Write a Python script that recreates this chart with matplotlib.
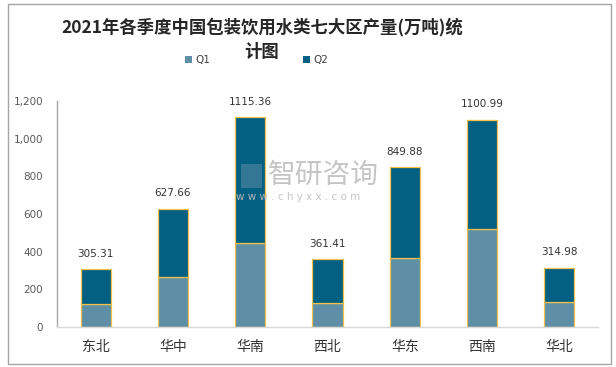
import matplotlib
matplotlib.use("Agg")
import matplotlib.pyplot as plt
from matplotlib.patches import Rectangle
import numpy as np

plt.rcParams['font.family'] = ['Noto Sans CJK SC', 'DejaVu Sans']

categories = ["东北", "华中", "华南", "西北", "华东", "西南", "华北"]
totals = [305.31, 627.66, 1115.36, 361.41, 849.88, 1100.99, 314.98]
q1 = [122, 264, 444, 129, 365, 519, 133]
q2 = [t - a for t, a in zip(totals, q1)]
yticks = [0, 200, 400, 600, 800, 1000, 1200]
title_l1 = "2021年各季度中国包装饮用水类七大区产量(万吨)统"
title_l2 = "计图"

c_q1 = "#5E8FA7"
c_q2 = "#036083"
edge = "#F5C04A"

fig = plt.figure(figsize=(6.16, 3.67), dpi=100)
ax = fig.add_axes([57/616, 1 - 327/367, (598-57)/616, 226/367])

x = np.arange(len(categories))
w = 0.39
ax.bar(x, q1, width=w, color=c_q1, edgecolor=edge, linewidth=0.9, label="Q1", zorder=2)
ax.bar(x, q2, width=w, bottom=q1, color=c_q2, edgecolor=edge, linewidth=0.9, label="Q2", zorder=2)

for xi, t in zip(x, totals):
    ax.text(xi, t + 55, f"{t:.2f}", ha="center", va="bottom", fontsize=7.5, color="#333333",
            family=['DejaVu Sans'])

ax.set_xlim(-0.5, len(categories) - 0.5)
ax.set_ylim(0, 1200)
ax.set_yticks(yticks)
ax.set_yticklabels([f"{v:,}" for v in yticks], fontsize=7.5, color="#595959", family=['DejaVu Sans'])
ax.set_xticks(x)
ax.set_xticklabels(categories, fontsize=10, color="#333333")
ax.tick_params(axis='both', length=0)
ax.tick_params(axis='y', pad=10)
ax.tick_params(axis='x', pad=9)
for s in ["top", "right"]:
    ax.spines[s].set_visible(False)
ax.spines["left"].set_color("#A6A6A6")
ax.spines["bottom"].set_color("#D9D9D9")
ax.spines["left"].set_linewidth(1)
ax.spines["bottom"].set_linewidth(1)

fig.text(262/616, 1 - 27/367, title_l1, ha="center", va="center", fontsize=12.5, fontweight="bold",
         color="#262626")
fig.text(262/616, 1 - 52/367, title_l2, ha="center", va="center", fontsize=12.5, fontweight="bold",
         color="#262626")

# legend
fig.patches.append(Rectangle((185/616, 1 - 63/367), 7/616, 7/367, transform=fig.transFigure,
                             facecolor=c_q1, edgecolor="none"))
fig.text(195/616, 1 - 60/367, "Q1", fontsize=7.5, color="#404040", va="center", family=['DejaVu Sans'])
fig.patches.append(Rectangle((303/616, 1 - 63/367), 7/616, 7/367, transform=fig.transFigure,
                             facecolor=c_q2, edgecolor="none"))
fig.text(313/616, 1 - 60/367, "Q2", fontsize=7.5, color="#404040", va="center", family=['DejaVu Sans'])

# watermark
fig.text(268/616, 1 - 175/367, "智研咨询", fontsize=20, color="#BFBFBF", va="center", alpha=0.9, zorder=5)
fig.text(236/616, 1 - 197/367, "w w w . c h y x x . c o m", fontsize=7.5, color="#BFBFBF", va="center",
         alpha=0.9, zorder=5, family=['DejaVu Sans'])
fig.patches.append(Rectangle((241/616, 1 - 188/367), 21/616, 24/367, transform=fig.transFigure,
                             facecolor="#8FA3B8", edgecolor="none", alpha=0.35, zorder=5))

# outer border
fig.patches.append(Rectangle((7.5/616, 1 - 364/367), (611 - 7.5)/616, (364 - 3.5)/367,
                             transform=fig.transFigure, fill=False, edgecolor="#A6A6A6", linewidth=1))

fig.savefig("out.png", dpi=100)
